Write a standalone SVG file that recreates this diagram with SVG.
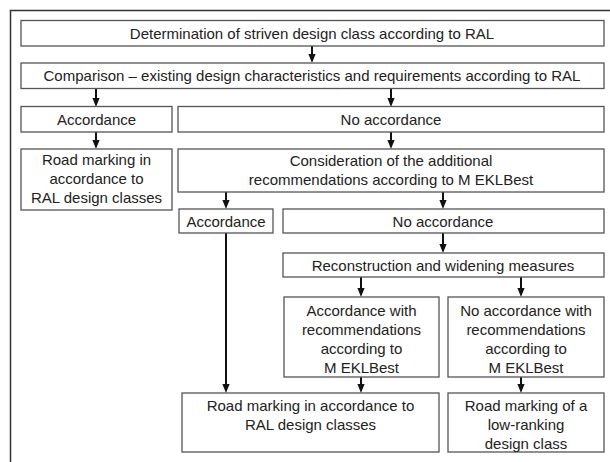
<svg xmlns="http://www.w3.org/2000/svg" width="610" height="462" viewBox="0 0 610 462">
<defs>
<style>
.box{fill:#fff;stroke:#555;stroke-width:1.3}
.t{font-family:"Liberation Sans",Arial,sans-serif;font-size:15px;fill:#222;text-anchor:middle}
.arr{stroke:#111;stroke-width:2;fill:none;marker-end:url(#ah)}
</style>
<marker id="ah" markerUnits="userSpaceOnUse" viewBox="0 0 10 10" markerWidth="9" markerHeight="9" refX="5" refY="5" orient="auto">
<path d="M0,1 L10,5 L0,9 z" fill="#111"/>
</marker>
</defs>
<rect width="610" height="462" fill="#fff"/>
<path d="M10.5,462 V10.5 H610" fill="none" stroke="#333" stroke-width="1.5"/>

<g id="connectors">
<line class="arr" x1="312" y1="46" x2="312" y2="58.5"/>
<line class="arr" x1="96" y1="88" x2="96" y2="102.5"/>
<line class="arr" x1="391" y1="88" x2="391" y2="102.5"/>
<line class="arr" x1="96" y1="132" x2="96" y2="144.5"/>
<line class="arr" x1="391" y1="132" x2="391" y2="144.5"/>
<line class="arr" x1="226" y1="192" x2="226" y2="204.5"/>
<line class="arr" x1="443" y1="192" x2="443" y2="204.5"/>
<line class="arr" x1="443" y1="233" x2="443" y2="248.5"/>
<line class="arr" x1="361" y1="277" x2="361" y2="292.5"/>
<line class="arr" x1="521" y1="277" x2="521" y2="292.5"/>
<line class="arr" x1="361" y1="377" x2="361" y2="388.5"/>
<line class="arr" x1="521" y1="377" x2="521" y2="388.5"/>
<line class="arr" x1="226" y1="233" x2="226" y2="388.5" stroke-width="2.5"/>
</g>

<g id="n1"><rect class="box" x="21" y="20.5" width="583" height="25.5"/>
<text class="t" x="312" y="38.5">Determination of striven design class according to RAL</text></g>

<g id="n2"><rect class="box" x="21" y="63" width="583" height="25.5"/>
<text class="t" x="312" y="81">Comparison – existing design characteristics and requirements according to RAL</text></g>

<g id="n3"><rect class="box" x="21" y="106.5" width="151" height="25.5"/>
<text class="t" x="96.5" y="124.5">Accordance</text></g>

<g id="n4"><rect class="box" x="178" y="106.5" width="426" height="25.5"/>
<text class="t" x="391" y="124.5">No accordance</text></g>

<g id="n5"><rect class="box" x="21" y="149" width="151" height="61"/>
<text class="t" x="96.5" y="164.5">Road marking in</text>
<text class="t" x="96.5" y="183.5">accordance to</text>
<text class="t" x="96.5" y="202.5">RAL design classes</text></g>

<g id="n6"><rect class="box" x="178" y="149" width="426" height="43"/>
<text class="t" x="391" y="165.5">Consideration of the additional</text>
<text class="t" x="391" y="184.5">recommendations according to M EKLBest</text></g>

<g id="n7"><rect class="box" x="179" y="209" width="94" height="24"/>
<text class="t" x="226" y="226.5">Accordance</text></g>

<g id="n8"><rect class="box" x="283" y="209" width="321" height="24"/>
<text class="t" x="443" y="226.5">No accordance</text></g>

<g id="n9"><rect class="box" x="283" y="253" width="321" height="24"/>
<text class="t" x="443" y="270.5">Reconstruction and widening measures</text></g>

<g id="n10"><rect class="box" x="284" y="297" width="155" height="80"/>
<text class="t" x="361.5" y="315.5">Accordance with</text>
<text class="t" x="361.5" y="334.5">recommendations</text>
<text class="t" x="361.5" y="353.5">according to</text>
<text class="t" x="361.5" y="372.5">M EKLBest</text></g>

<g id="n11"><rect class="box" x="448" y="297" width="156" height="80"/>
<text class="t" x="526" y="315.5">No accordance with</text>
<text class="t" x="526" y="334.5">recommendations</text>
<text class="t" x="526" y="353.5">according to</text>
<text class="t" x="526" y="372.5">M EKLBest</text></g>

<g id="n12"><rect class="box" x="182" y="393" width="257" height="59"/>
<text class="t" x="310.5" y="410.5">Road marking in accordance to</text>
<text class="t" x="310.5" y="429.5">RAL design classes</text></g>

<g id="n13"><rect class="box" x="448" y="393" width="156" height="59"/>
<text class="t" x="526" y="410.5">Road marking of a</text>
<text class="t" x="526" y="429.5">low-ranking</text>
<text class="t" x="526" y="448.5">design class</text></g>
</svg>
